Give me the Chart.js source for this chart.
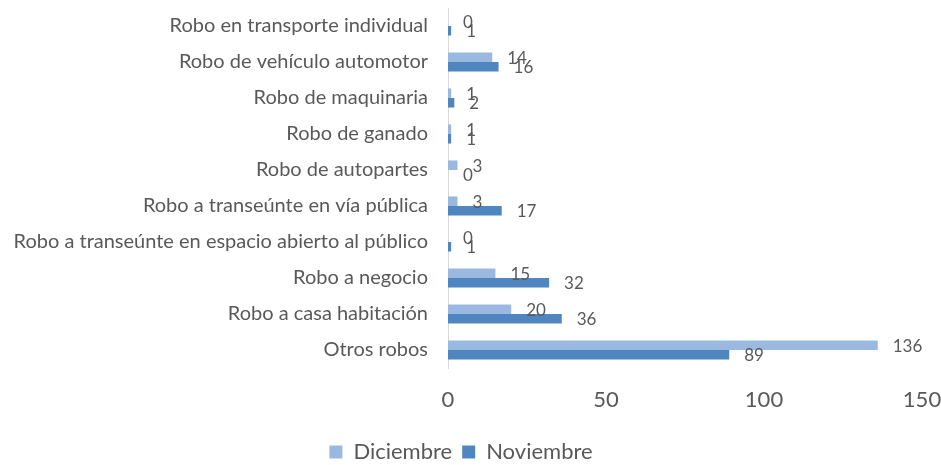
<!DOCTYPE html>
<html>
<head>
<meta charset="utf-8">
<script src="https://cdn.jsdelivr.net/npm/chart.js@4"></script>
<style>
  html, body { margin: 0; padding: 0; background: #fff; }
  #wrap { width: 941px; height: 465px; }
</style>
</head>
<body>
<div id="wrap"><canvas id="robosChart"></canvas></div>
<script>
// categories, top to bottom
const categorias = [
    'Robo en transporte individual',
    'Robo de vehículo automotor',
    'Robo de maquinaria',
    'Robo de ganado',
    'Robo de autopartes',
    'Robo a transeúnte en vía pública',
    'Robo a transeúnte en espacio abierto al público',
    'Robo a negocio',
    'Robo a casa habitación',
    'Otros robos'
];
const diciembre = [0, 14, 1, 1, 3, 3, 0, 15, 20, 136];
const noviembre = [1, 16, 2, 1, 0, 17, 1, 32, 36, 89];
const ticksX = [0, 50, 100, 150];

const textColor = '#595959';
const fontFamily = 'Lato, "Open Sans", sans-serif';

// value labels just past the end of each bar
const valueLabels = {
    id: 'valueLabels',
    afterDatasetsDraw(chart) {
        const ctx = chart.ctx;
        const xScale = chart.scales.x;
        ctx.save();
        ctx.font = '17px ' + fontFamily;
        ctx.fillStyle = textColor;
        ctx.textAlign = 'left';
        ctx.textBaseline = 'middle';
        chart.data.datasets.forEach((ds, i) => {
            const meta = chart.getDatasetMeta(i);
            meta.data.forEach((bar, j) => {
                const v = ds.data[j];
                const x = xScale.getPixelForValue(v) + 15;
                ctx.fillText(String(v), x, bar.y + 1);
            });
        });
        ctx.restore();
    }
};

const ctx = document.getElementById('robosChart').getContext('2d');
new Chart(ctx, {
    type: 'bar',
    data: {
        labels: categorias,
        datasets: [{
            label: 'Diciembre',
            data: diciembre,
            backgroundColor: '#9bb9e0',
            categoryPercentage: 0.53,
            barPercentage: 1.0
        }, {
            label: 'Noviembre',
            data: noviembre,
            backgroundColor: '#4f86c0',
            categoryPercentage: 0.53,
            barPercentage: 1.0
        }]
    },
    options: {
        indexAxis: 'y',
        responsive: true,
        maintainAspectRatio: false,
        animation: false,
        layout: { padding: { top: 8, right: 19, left: 0, bottom: -8 } },
        scales: {
            x: {
                min: 0,
                max: 150,
                afterBuildTicks: (s) => { s.ticks = ticksX.map(v => ({ value: v })); },
                afterFit: (s) => { s.height = 63; s.paddingLeft = 0; s.paddingRight = 0; },
                grid: { display: false },
                border: { display: false },
                ticks: { color: textColor, font: { size: 22, family: fontFamily }, padding: 11 }
            },
            y: {
                afterFit: (s) => { s.width = 448; s.paddingTop = 0; s.paddingBottom = 0; },
                grid: { display: false },
                border: { display: true, color: '#d9d9d9', width: 1 },
                ticks: { color: textColor, font: { size: 20, family: fontFamily }, padding: 12 }
            }
        },
        plugins: {
            legend: {
                position: 'bottom',
                labels: {
                    color: textColor,
                    font: { size: 22, family: fontFamily },
                    boxWidth: 13,
                    boxHeight: 13,
                    padding: 10
                }
            },
            tooltip: { enabled: false }
        }
    },
    plugins: [valueLabels]
});
</script>
</body>
</html>
